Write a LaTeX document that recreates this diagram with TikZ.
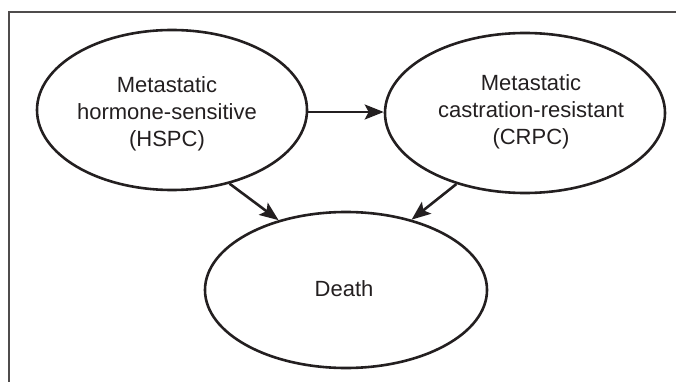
\documentclass[tikz,border=0pt]{standalone}
\usepackage{fontspec}
\setmainfont{Liberation Sans}
\usetikzlibrary{arrows.meta,shapes.geometric}
\definecolor{ink}{HTML}{231F20}
\begin{document}
\begin{tikzpicture}[x=1pt,y=-1pt,
  state/.style={ellipse,draw=ink,line width=2.6pt,inner sep=0pt},
  lbl/.style={text=ink,align=center,font=\fontsize{22}{26.7}\selectfont,inner sep=0pt},
  flow/.style={draw=ink,line width=2.6pt,-{Stealth[length=19pt,width=15pt,inset=4pt]}}]
\useasboundingbox (0,0) rectangle (676,382);
\draw[ink!80,line width=1.4pt] (9,382) -- (9,12) -- (676,12);
\node[state,minimum width=270pt,minimum height=160pt] (hspc) at (172,110) {};
\node[state,minimum width=280pt,minimum height=160pt] (crpc) at (525,113) {};
\node[state,minimum width=282pt,minimum height=156pt] (death) at (346,290) {};
\node[lbl] (hspct) at (167,114) {Metastatic\\hormone-sensitive\\(HSPC)};
\node[lbl] (crpct) at (531,112) {Metastatic\\castration-resistant\\(CRPC)};
\node[lbl] (deatht) at (344,289) {Death};
\draw[flow] (hspc.east |- 0,112) -- (crpc.west |- 0,112);
\draw[flow] (hspc.-52.5) -- (death.134);
\draw[flow] (crpc.226) -- (death.47);
\end{tikzpicture}
\end{document}
